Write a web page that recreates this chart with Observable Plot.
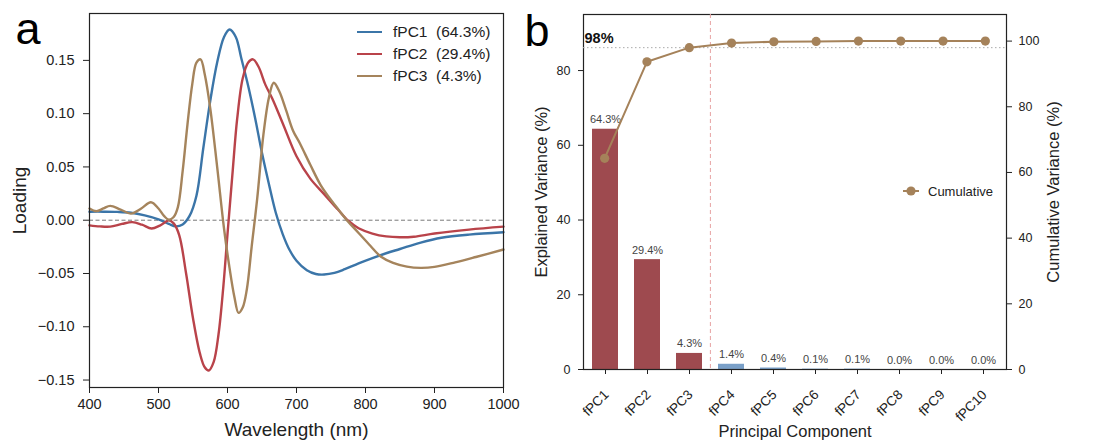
<!DOCTYPE html>
<html><head><meta charset="utf-8">
<script src="https://cdn.jsdelivr.net/npm/d3@7"></script>
<script src="https://cdn.jsdelivr.net/npm/@observablehq/plot@0.6"></script>
<style>
body{margin:0;background:#fff;font-family:"Liberation Sans",Arial,sans-serif;}
#root{position:relative;width:1094px;height:443px;overflow:hidden;background:#fff}
.abs{position:absolute;top:0}
.leg{position:absolute;display:flex;align-items:center;height:18px;white-space:pre;color:#222;font-family:"Liberation Sans",Arial,sans-serif}
.leg .sw{display:inline-block;width:25px;height:2.6px;margin-right:11px}
</style></head><body><div id="root"></div>
<script>
// ---------- Panel a: functional PC loadings ----------
const seriesNames = ["fPC1", "fPC2", "fPC3"];
const seriesShare = ["64.3%", "29.4%", "4.3%"];
const fpc1 = [[400,0.0080],[420,0.0080],[440,0.0078],[460,0.0070],[480,0.0045],[500,0.0008],[515,-0.0035],[525,-0.0058],[535,-0.0040],[545,0.0040],[555,0.0230],[565,0.0680],[575,0.1120],[585,0.1480],[595,0.1720],[603,0.1790],[612,0.1720],[620,0.1520],[630,0.1260],[640,0.0960],[650,0.0630],[660,0.0340],[670,0.0070],[680,-0.0130],[690,-0.0280],[700,-0.0380],[715,-0.0470],[728,-0.0505],[740,-0.0510],[755,-0.0495],[770,-0.0460],[790,-0.0405],[810,-0.0355],[830,-0.0310],[850,-0.0270],[880,-0.0210],[910,-0.0165],[950,-0.0135],[1000,-0.0113]];
const fpc2 = [[400,-0.0048],[415,-0.0058],[430,-0.0060],[447,-0.0035],[462,-0.0018],[476,-0.0042],[490,-0.0078],[502,-0.0050],[515,-0.0002],[522,-0.0030],[530,-0.0140],[540,-0.0500],[550,-0.0920],[560,-0.1250],[567,-0.1380],[573,-0.1410],[580,-0.1330],[587,-0.1070],[594,-0.0620],[600,-0.0130],[607,0.0420],[614,0.0950],[622,0.1330],[630,0.1480],[637,0.1510],[645,0.1440],[655,0.1270],[665,0.1140],[680,0.0910],[700,0.0600],[720,0.0390],[740,0.0245],[760,0.0100],[775,-0.0005],[790,-0.0075],[810,-0.0125],[830,-0.0152],[850,-0.0160],[870,-0.0155],[900,-0.0125],[950,-0.0088],[1000,-0.0060]];
const fpc3 = [[400,0.0110],[410,0.0085],[420,0.0110],[430,0.0135],[445,0.0100],[460,0.0062],[475,0.0110],[489,0.0168],[500,0.0110],[508,0.0040],[515,0.0005],[522,0.0030],[528,0.0120],[535,0.0460],[542,0.0900],[549,0.1280],[555,0.1480],[561,0.1510],[567,0.1370],[575,0.1050],[585,0.0500],[595,-0.0080],[603,-0.0450],[610,-0.0720],[616,-0.0870],[622,-0.0820],[628,-0.0650],[635,-0.0250],[643,0.0200],[652,0.0800],[660,0.1150],[667,0.1290],[675,0.1210],[685,0.1030],[695,0.0840],[705,0.0720],[720,0.0520],[735,0.0330],[750,0.0190],[762,0.0090],[773,0.0000],[790,-0.0120],[807,-0.0240],[822,-0.0340],[840,-0.0400],[860,-0.0435],[880,-0.0447],[900,-0.0438],[930,-0.0395],[960,-0.0345],[1000,-0.0275]];
const loadingTicksX = [400, 500, 600, 700, 800, 900, 1000];
const loadingTicksY = [-0.15, -0.10, -0.05, 0, 0.05, 0.10, 0.15];

// ---------- Panel b: explained variance ----------
const components = ["fPC1","fPC2","fPC3","fPC4","fPC5","fPC6","fPC7","fPC8","fPC9","fPC10"];
const explained = [64.3, 29.4, 4.3, 1.4, 0.4, 0.1, 0.1, 0.0, 0.0, 0.0];
const cumulative = [64.3, 93.7, 98.0, 99.4, 99.8, 99.9, 100.0, 100.0, 100.0, 100.0];
const threshold = 98;
const leftTicks = [0, 20, 40, 60, 80];
const rightTicks = [0, 20, 40, 60, 80, 100];

const colors = ["#3b75a8", "#b9434a", "#a5845c"];
const cumColor = "#a5825a";
const barRed = "#9e4a4f", barBlue = "#7aa0c8";
const FONT = '"Liberation Sans", Arial, sans-serif';

const loadings = [];
[fpc1, fpc2, fpc3].forEach((arr, i) => arr.forEach(([wl, v]) => loadings.push({pc: seriesNames[i], wl, v})));

const root = document.getElementById("root");

const plotA = Plot.plot({
  width: 520, height: 443,
  marginLeft: 89, marginRight: 17, marginTop: 13, marginBottom: 56,
  style: {fontFamily: FONT, fontSize: "14.5px", color: "#222", background: "transparent"},
  x: {domain: [400, 1000]},
  y: {domain: [-0.157, 0.194]},
  color: {domain: seriesNames, range: colors},
  marks: [
    Plot.ruleY([0], {stroke: "#555", strokeWidth: 0.8, strokeDasharray: "4,2.5"}),
    Plot.line(loadings, {x: "wl", y: "v", stroke: "pc", z: "pc", curve: "catmull-rom", strokeWidth: 2.4}),
    Plot.frame({stroke: "#222", strokeWidth: 1.2}),
    Plot.axisX({ticks: loadingTicksX, tickFormat: d => String(d), tickSize: 6, tickPadding: 5, label: null, fontSize: 14.5}),
    Plot.axisY({ticks: loadingTicksY, tickFormat: d3.format(".2f"), tickSize: 6, tickPadding: 9, label: null, fontSize: 14.5}),
    Plot.text(["Wavelength (nm)"], {frameAnchor: "bottom", dy: 48, textAnchor: "middle", fontSize: 19}),
    Plot.text(["Loading"], {frameAnchor: "left", dx: -70, rotate: -90, textAnchor: "middle", fontSize: 19}),
    Plot.text(["a"], {frameAnchor: "top-left", dx: -74, dy: 30, textAnchor: "start", lineAnchor: "bottom", fontSize: 45, fill: "#000"})
  ]
});
const divA = document.createElement("div");
divA.className = "abs"; divA.style.left = "0px";
divA.appendChild(plotA);
root.appendChild(divA);

// legend a
seriesNames.forEach((n, i) => {
  const row = document.createElement("div");
  row.className = "leg";
  row.style.left = "357px";
  row.style.top = (23 + i * 22) + "px";
  row.style.fontSize = "15.5px";
  const sw = document.createElement("span");
  sw.className = "sw"; sw.style.background = colors[i];
  row.appendChild(sw);
  row.appendChild(document.createTextNode(`${n}  (${seriesShare[i]})`));
  root.appendChild(row);
});

// panel b base
const barData = components.map((pc, i) => ({pc, ev: explained[i], cum: cumulative[i], idx: i + 1}));
const nKept = cumulative.filter(c => c <= threshold).length;

const commonB = {width: 574, height: 443, marginLeft: 63, marginRight: 88, marginTop: 14, marginBottom: 74};

const plotB = Plot.plot({
  ...commonB,
  style: {fontFamily: FONT, fontSize: "12.5px", color: "#222", background: "transparent"},
  x: {type: "band", domain: components, paddingInner: 0.37, paddingOuter: 0.185},
  y: {domain: [0, 95]},
  marks: [
    Plot.barY(barData, {x: "pc", y: "ev", fill: d => d.idx <= nKept ? barRed : barBlue}),
    Plot.text(barData, {x: "pc", y: "ev", text: d => d.ev.toFixed(1) + "%", dy: -6, lineAnchor: "bottom", fontSize: 11, fill: "#444"}),
    Plot.frame({stroke: "#222", strokeWidth: 1.2}),
    Plot.axisX({tickSize: 5, tickFormat: () => "", label: null}),
    Plot.text(components, {x: d => d, frameAnchor: "bottom", dx: 1, dy: 23, rotate: -45, textAnchor: "end", lineAnchor: "middle", fontSize: 13.5}),
    Plot.axisY({ticks: leftTicks, tickSize: 5, tickPadding: 8, label: null, fontSize: 12.5}),
    Plot.text(["Principal Component"], {frameAnchor: "bottom", dy: 67, textAnchor: "middle", fontSize: 16.5}),
    Plot.text(["Explained Variance (%)"], {frameAnchor: "left", dx: -42, rotate: -90, textAnchor: "middle", fontSize: 16.5}),
    Plot.text(["b"], {frameAnchor: "top-left", dx: -59, dy: 31, textAnchor: "start", lineAnchor: "bottom", fontSize: 45, fill: "#000"})
  ]
});
const plotB2 = Plot.plot({
  ...commonB,
  style: {fontFamily: FONT, fontSize: "12.5px", color: "#222", background: "transparent"},
  x: {domain: [0.5, components.length + 0.5], axis: null},
  y: {domain: [0, 108.1], axis: null},
  marks: [
    Plot.ruleY([threshold], {stroke: "#aaa", strokeWidth: 1, strokeDasharray: "1.5,2.5"}),
    Plot.ruleX([nKept + 0.5], {stroke: "#e7a3a3", strokeWidth: 1, strokeDasharray: "4,3"}),
    Plot.line(barData, {x: "idx", y: "cum", stroke: cumColor, strokeWidth: 2}),
    Plot.dot(barData, {x: "idx", y: "cum", r: 4.6, fill: cumColor}),
    Plot.text([threshold], {y: d => d, text: d => d + "%", frameAnchor: "left", textAnchor: "start", dx: 1, dy: -5, lineAnchor: "bottom", fontWeight: "bold", fontSize: 14.5, fill: "#111"}),
    Plot.axisY({anchor: "right", ticks: rightTicks, tickSize: 5, tickPadding: 7, label: null, fontSize: 12.5}),
    Plot.text(["Cumulative Variance (%)"], {frameAnchor: "right", dx: 47, rotate: -90, textAnchor: "middle", fontSize: 16.5})
  ]
});
const divB = document.createElement("div");
divB.className = "abs"; divB.style.left = "520px";
divB.appendChild(plotB);
root.appendChild(divB);
const divB2 = document.createElement("div");
divB2.className = "abs"; divB2.style.left = "520px"; divB2.style.pointerEvents = "none";
divB2.appendChild(plotB2);
root.appendChild(divB2);

// legend b
const legB = document.createElement("div");
legB.className = "leg";
legB.style.left = "903px"; legB.style.top = "182px"; legB.style.fontSize = "13px";
legB.innerHTML = `<svg width="16" height="12" style="margin-right:9px;overflow:visible"><line x1="0" y1="6" x2="16" y2="6" stroke="${cumColor}" stroke-width="2"/><circle cx="8" cy="6" r="4.6" fill="${cumColor}"/></svg>Cumulative`;
root.appendChild(legB);
</script></body></html>
